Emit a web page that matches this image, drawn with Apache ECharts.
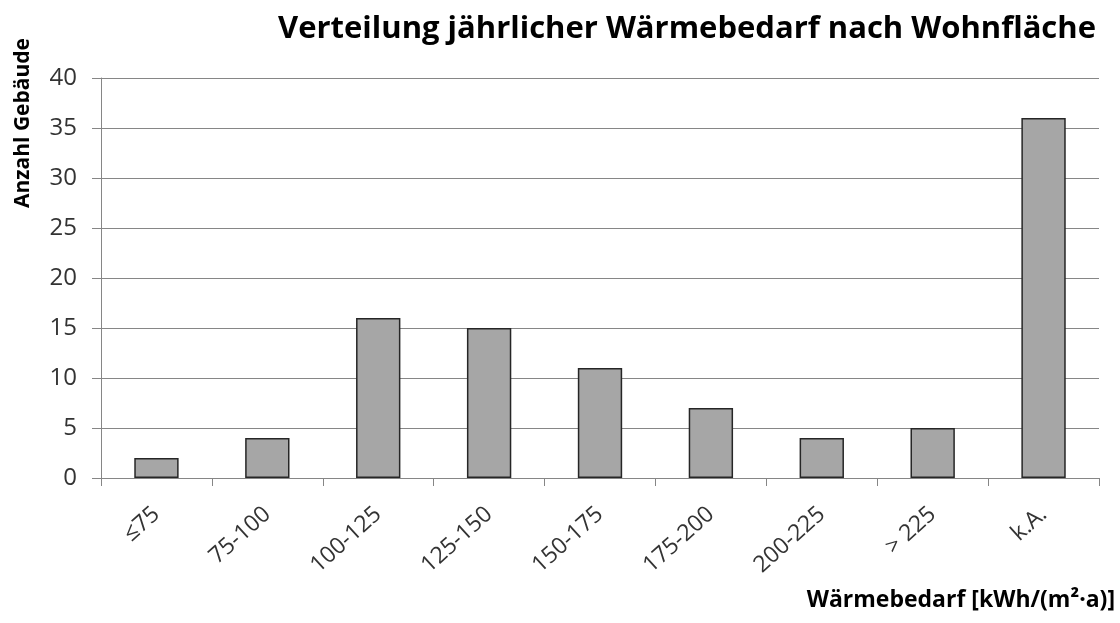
<!DOCTYPE html>
<html>
<head>
<meta charset="utf-8">
<script src="https://cdn.jsdelivr.net/npm/echarts@6/dist/echarts.min.js"></script>
<style>html,body{margin:0;padding:0;background:#fff}#c{width:1120px;height:623px}</style>
</head>
<body>
<div id="c"></div>
<script>
const categories = ['≤75', '75-100', '100-125', '125-150', '150-175', '175-200', '200-225', '> 225', 'k.A.'];
const values = [2, 4, 16, 15, 11, 7, 4, 5, 36];
const yTicks = { min: 0, max: 40, interval: 5 };
const titleText = 'Verteilung jährlicher Wärmebedarf nach Wohnfläche';
const yTitle = 'Anzahl Gebäude';
const xTitle = 'Wärmebedarf [kWh/(m²·a)]';

const FONT = '"Open Sans", sans-serif';
const chart = echarts.init(document.getElementById('c'), null, { renderer: 'canvas' });
chart.setOption({
  animation: false,
  backgroundColor: '#ffffff',
  title: [
    { text: titleText, right: 19, top: 9,
      textStyle: { fontFamily: FONT, fontWeight: 'bold', fontSize: 31, color: '#000' } },
    { text: xTitle, right: 0, top: 584,
      textStyle: { fontFamily: FONT, fontWeight: 'bold', fontSize: 23, color: '#000' } }
  ],
  graphic: [{
    type: 'text',
    x: 23, y: 123,
    rotation: Math.PI / 2,
    style: { text: yTitle, fontFamily: FONT, fontWeight: 'bold', fontSize: 21, fill: '#000',
             textAlign: 'center', textVerticalAlign: 'middle' }
  }],
  grid: { left: 101, right: 21, top: 78, bottom: 145, containLabel: false },
  xAxis: {
    type: 'category',
    data: categories,
    axisLine: { lineStyle: { color: '#868686', width: 1 } },
    axisTick: { show: true, alignWithLabel: false, length: 8, lineStyle: { color: '#868686' } },
    axisLabel: { rotate: 42, margin: 33, fontFamily: FONT, fontSize: 23, color: '#333', interval: 0 }
  },
  yAxis: {
    type: 'value',
    min: yTicks.min, max: yTicks.max, interval: yTicks.interval,
    axisLine: { show: true, lineStyle: { color: '#868686', width: 1 } },
    axisTick: { show: true, length: 9, lineStyle: { color: '#868686' } },
    axisLabel: { margin: 24, fontFamily: FONT, fontSize: 24, color: '#333' },
    splitLine: { lineStyle: { color: '#868686', width: 1 } }
  },
  series: [{
    type: 'bar',
    data: values,
    barWidth: '40%',
    itemStyle: { color: '#a6a6a6', borderColor: '#262626', borderWidth: 1.5 }
  }]
});
</script>
</body>
</html>
